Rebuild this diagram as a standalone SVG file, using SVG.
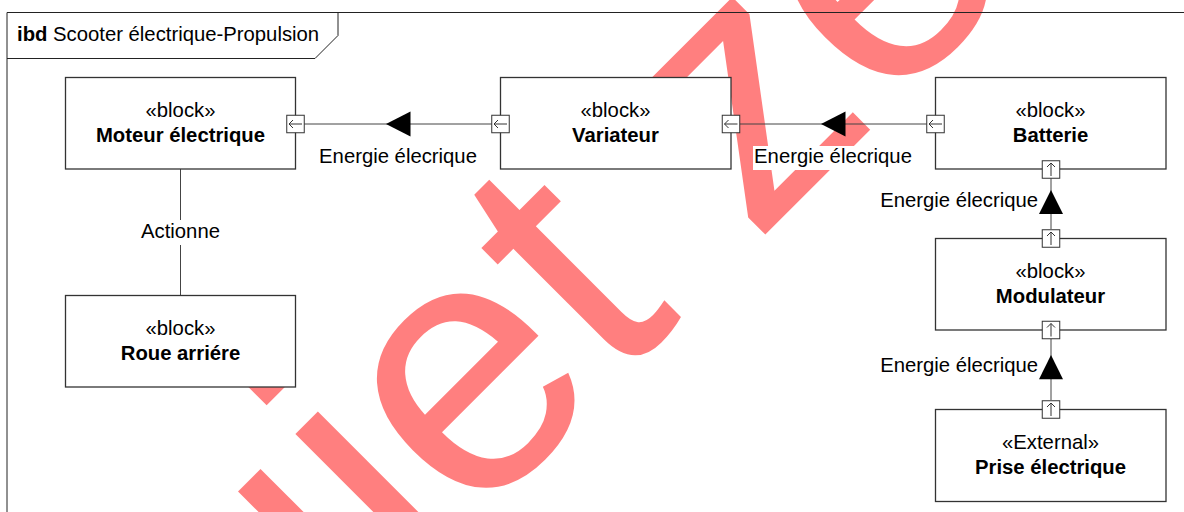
<svg xmlns="http://www.w3.org/2000/svg" width="1184" height="512" viewBox="0 0 1184 512">
<style>
text{font-family:"Liberation Sans",Arial,sans-serif;font-size:20.3px;fill:#000}
.b{font-weight:bold}
.blk{fill:#fff;stroke:#333;stroke-width:1.3}
.con{stroke:#444;stroke-width:1;fill:none}
.bg{fill:#fff}
.wm{font-size:362px;fill:#ff0000;fill-opacity:0.5}
</style>
<defs>
<g id="portL"><rect x="-8.75" y="-8.75" width="17.5" height="17.5" fill="#fff" stroke="#333" stroke-width="1"/><path d="M6.5,0H-6.5M-2.5,-4L-6.5,0L-2.5,4" fill="none" stroke="#333" stroke-width="1"/></g>
<g id="portU"><rect x="-8.75" y="-8.75" width="17.5" height="17.5" fill="#fff" stroke="#333" stroke-width="1"/><path d="M0,6.5V-6.5M-4,-2.5L0,-6.5L4,-2.5" fill="none" stroke="#333" stroke-width="1"/></g>
</defs>
<rect width="1184" height="512" fill="#fff"/>
<text class="wm" transform="translate(100.4,899.5) rotate(-45)">Sujet zéro</text>
<g id="frame">
<path d="M7,512V12.5H1184" fill="none" stroke="#222" stroke-width="1"/>
<path d="M7,58.5H315L338,35.5V12.5" fill="none" stroke="#222" stroke-width="1"/>
<text x="17" y="41"><tspan class="b">ibd</tspan> Scooter électrique-Propulsion</text>
</g>
<g id="connectors">
<line class="con" x1="304" y1="124" x2="492" y2="124"/>
<path d="M386,124L410.5,111.5V136.5Z" fill="#000"/>
<rect class="bg" x="317" y="146" width="162" height="24"/>
<text x="398" y="163.3" text-anchor="middle">Energie élecrique</text>
<line class="con" x1="740" y1="124" x2="927" y2="124"/>
<path d="M821,124L845.5,111.5V136.5Z" fill="#000"/>
<rect class="bg" x="753" y="146" width="160" height="24"/>
<text x="833" y="163" text-anchor="middle">Energie élecrique</text>
<line class="con" x1="1051" y1="178" x2="1051" y2="229"/>
<path d="M1051,190L1063,214H1039Z" fill="#000"/>
<rect class="bg" x="878" y="190" width="160" height="24"/>
<text x="1038" y="207.3" text-anchor="end">Energie élecrique</text>
<line class="con" x1="1051" y1="339" x2="1051" y2="400"/>
<path d="M1051,355L1063,379.3H1039Z" fill="#000"/>
<rect class="bg" x="878" y="354.5" width="160" height="24"/>
<text x="1038" y="371.7" text-anchor="end">Energie élecrique</text>
<line class="con" x1="180.5" y1="169" x2="180.5" y2="295"/>
<rect class="bg" x="139" y="220" width="83" height="25"/>
<text x="180.5" y="238.3" text-anchor="middle">Actionne</text>
</g>
<g id="moteur">
<rect class="blk" x="65.5" y="77.5" width="230" height="91.5"/>
<text x="180.5" y="117" text-anchor="middle">«block»</text>
<text class="b" x="180.5" y="142" text-anchor="middle">Moteur électrique</text>
<use href="#portL" x="295.5" y="124"/>
</g>
<g id="variateur">
<rect class="blk" x="500.5" y="77.5" width="230.5" height="91.5"/>
<text x="615.5" y="117" text-anchor="middle">«block»</text>
<text class="b" x="615.5" y="142" text-anchor="middle">Variateur</text>
<use href="#portL" x="500.5" y="124"/>
<use href="#portL" x="731" y="124"/>
</g>
<g id="batterie">
<rect class="blk" x="935.5" y="77.5" width="230.5" height="91.5"/>
<text x="1050.5" y="117" text-anchor="middle">«block»</text>
<text class="b" x="1050.5" y="142" text-anchor="middle">Batterie</text>
<use href="#portL" x="935.5" y="124"/>
<use href="#portU" x="1051" y="169.5"/>
</g>
<g id="modulateur">
<rect class="blk" x="935.5" y="238.5" width="230.5" height="91.5"/>
<text x="1050.5" y="277.7" text-anchor="middle">«block»</text>
<text class="b" x="1050.5" y="302.7" text-anchor="middle">Modulateur</text>
<use href="#portU" x="1051" y="238.5"/>
<use href="#portU" x="1051" y="330"/>
</g>
<g id="prise">
<rect class="blk" x="935.5" y="409.5" width="230.5" height="92"/>
<text x="1050.5" y="448.6" text-anchor="middle">«External»</text>
<text class="b" x="1050.5" y="473.6" text-anchor="middle">Prise électrique</text>
<use href="#portU" x="1051" y="409.5"/>
</g>
<g id="roue">
<rect class="blk" x="65.5" y="295.5" width="230" height="91.5"/>
<text x="180.5" y="334.5" text-anchor="middle">«block»</text>
<text class="b" x="180.5" y="359.5" text-anchor="middle">Roue arriére</text>
</g>
</svg>
